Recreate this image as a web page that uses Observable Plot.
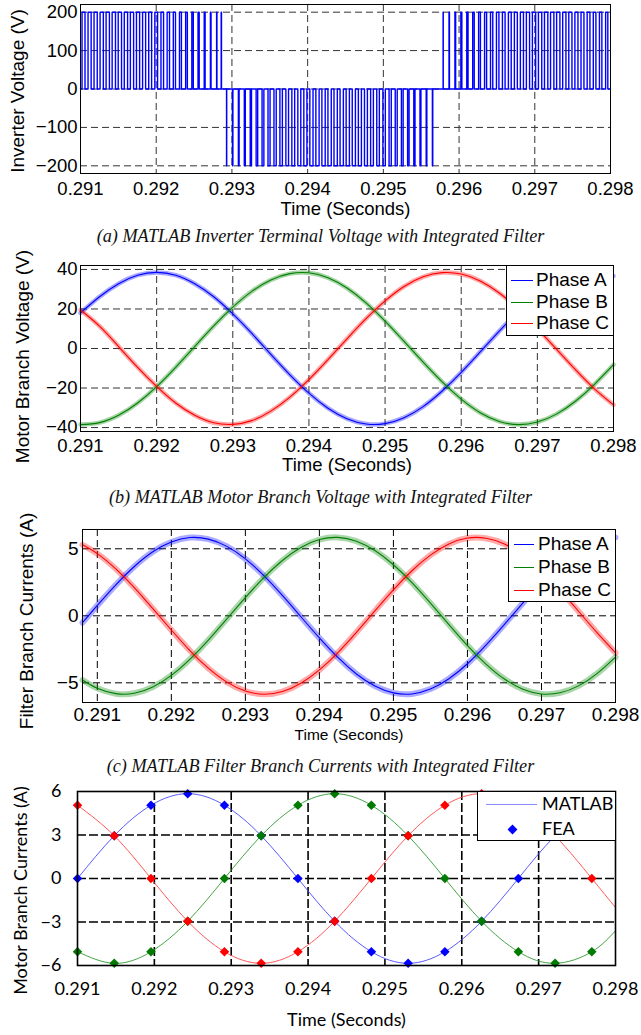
<!DOCTYPE html>
<html><head><meta charset="utf-8">
<script src="https://cdn.jsdelivr.net/npm/d3@7"></script>
<script src="https://cdn.jsdelivr.net/npm/@observablehq/plot@0.6"></script>
<style>
body{margin:0;background:#fff;}
#root{position:relative;width:641px;height:1035px;overflow:hidden;background:#fff;}
.cap{position:absolute;left:0;width:641px;text-align:center;font-family:"Liberation Serif","DejaVu Serif",serif;font-style:italic;font-size:18.2px;line-height:20px;color:#111;white-space:nowrap;}
.leg{position:absolute;background:#fff;box-sizing:border-box;}
.leg span{position:absolute;white-space:nowrap;}
</style>
</head><body><div id="root"></div><script>
// ---------- shared axis values ----------
const xTickValues = [0.291, 0.292, 0.293, 0.294, 0.295, 0.296, 0.297, 0.298];
const xGridInner = [0.292, 0.293, 0.294, 0.295, 0.296, 0.297];
const xGridC = [0.291, 0.292, 0.293, 0.294, 0.295, 0.296, 0.297];
const phaseNames = ["Phase A", "Phase B", "Phase C"];

// ---------- (a) inverter PWM voltage: pulse edges in ms after 0.291 s ----------
const pwmT0 = 0.291;
const pwmSpanMs = [0, 7];
const pwmLevels = [200, -200, 200];
const pos1OnMs  = [0.0203,0.0996,0.1789,0.2584,0.3381,0.4180,0.4981,0.5782,0.6586,0.7392,0.8199,0.9008,0.9818,1.0629,1.1442,1.2256,1.3071,1.3887,1.4704,1.5522,1.6340,1.7159,1.7978,1.8580];
const pos1OffMs = [0.0597,0.1404,0.2211,0.3016,0.3819,0.4620,0.5419,0.6218,0.7014,0.7808,0.8601,0.9392,1.0182,1.0971,1.1758,1.2544,1.3329,1.4113,1.4896,1.5678,1.6460,1.7241,1.8022,1.8620];
const negOnMs   = [1.9290,2.0071,2.0852,2.1634,2.2416,2.3198,2.3981,2.4766,2.5551,2.6337,2.7125,2.7914,2.8704,2.9496,3.0290,3.1085,3.1882,3.2680,3.3481,3.4282,3.5086,3.5891,3.6698,3.7507,3.8317,3.9128,3.9940,4.0755,4.1569,4.2385,4.3202,4.4020,4.4838,4.5657,4.6476];
const negOffMs  = [1.9310,2.0129,2.0948,2.1767,2.2585,2.3403,2.4219,2.5035,2.5850,2.6663,2.7476,2.8287,2.9096,2.9904,3.0711,3.1515,3.2319,3.3120,3.3920,3.4718,3.5514,3.6309,3.7102,3.7893,3.8683,3.9472,4.0260,4.1045,4.1831,4.2615,4.3398,4.4180,4.4962,4.5743,4.6524];
const pos2OnMs  = [4.7890,4.8671,4.9452,5.0234,5.1016,5.1798,5.2581,5.3366,5.4151,5.4937,5.5725,5.6514,5.7304,5.8096,5.8890,5.9685,6.0482,6.1280,6.2081,6.2882,6.3686,6.4491,6.5298,6.6107,6.6917,6.7728,6.8540,6.9355];
const pos2OffMs = [4.7910,4.8729,4.9548,5.0367,5.1185,5.2003,5.2819,5.3635,5.4450,5.5263,5.6076,5.6887,5.7696,5.8504,5.9311,6.0115,6.0919,6.1720,6.2520,6.3318,6.4114,6.4909,6.5702,6.6493,6.7283,6.8072,6.8860,6.9645];
const yTicksA = [-200, -100, 0, 100, 200];

// ---------- (b) motor branch voltage ----------
const tB = [0.291,0.29125,0.2915,0.29175,0.292,0.29225,0.2925,0.29275,0.293,0.29325,0.2935,0.29375,0.294,0.29425,0.2945,0.29475,0.295,0.29525,0.2955,0.29575,0.296,0.29625,0.2965,0.29675,0.297,0.29725,0.2975,0.29775,0.298];
const vA_b = [18.0,26.2,32.8,37.1,38.5,37.1,32.8,26.2,17.5,7.6,-3.0,-13.3,-22.6,-30.2,-35.5,-38.2,-38.0,-35.0,-29.4,-21.5,-12.1,-1.7,8.8,18.6,27.1,33.5,37.4,38.5,36.7];
const vB_b = [-38.5,-37.5,-33.8,-27.6,-19.3,-9.5,1.0,11.4,20.9,28.9,34.7,37.9,38.3,35.8,30.6,23.1,13.9,3.6,-6.9,-16.9,-25.6,-32.5,-36.9,-38.5,-37.2,-33.2,-26.7,-18.1,-8.2];
const vC_b = [19.5,11.3,1.0,-9.5,-19.2,-27.6,-33.8,-37.6,-38.4,-36.5,-31.7,-24.6,-15.7,-5.6,4.9,15.1,24.1,31.4,36.3,38.4,37.7,34.2,28.1,19.9,10.1,-0.3,-10.7,-20.4,-28.5];
const yTicksB = [-40, -20, 0, 20, 40];

// ---------- (c) filter branch currents ----------
const tC = [0.2908,0.291,0.29125,0.2915,0.29175,0.292,0.29225,0.2925,0.29275,0.293,0.29325,0.2935,0.29375,0.294,0.29425,0.2945,0.29475,0.295,0.29525,0.2955,0.29575,0.296,0.29625,0.2965,0.29675,0.297,0.29725,0.2975,0.29775,0.298];
const vA_c = [-0.51,0.77,2.31,3.68,4.78,5.51,5.84,5.72,5.18,4.25,3.00,1.52,-0.07,-1.65,-3.11,-4.34,-5.24,-5.75,-5.83,-5.47,-4.70,-3.58,-2.19,-0.64,0.96,2.49,3.83,4.89,5.58,5.85];
const vB_c = [-4.79,-5.41,-5.81,-5.78,-5.31,-4.45,-3.25,-1.81,-0.23,1.36,2.85,4.13,5.10,5.69,5.85,5.57,4.87,3.81,2.47,0.94,-0.66,-2.22,-3.60,-4.72,-5.48,-5.83,-5.74,-5.23,-4.32,-3.09];
const vC_c = [5.30,4.64,3.50,2.10,0.53,-1.06,-2.59,-3.91,-4.95,-5.61,-5.85,-5.65,-5.03,-4.04,-2.74,-1.23,0.37,1.94,3.36,4.53,5.36,5.80,5.79,5.36,4.52,3.34,1.91,0.34,-1.26,-2.76];
const yTicksC = [-5, 0, 5];

// ---------- (d) motor branch currents: MATLAB vs FEA ----------
const tFEA = [0.291,0.291478,0.291956,0.292434,0.292912,0.29339,0.293868,0.294346,0.294824,0.295302,0.29578,0.296258,0.296736,0.297214,0.297692];
const feaA = [0,2.95,5.05,5.85,5.05,2.95,0,-2.95,-5.05,-5.85,-5.05,-2.95,0,2.95,5.05];
const feaB = [-5.05,-5.85,-5.05,-2.95,0,2.95,5.05,5.85,5.05,2.95,0,-2.95,-5.05,-5.85,-5.05];
const feaC = [5.05,2.95,0,-2.95,-5.05,-5.85,-5.05,-2.95,0,2.95,5.05,5.85,5.05,2.95,0];
const tMATLAB = [0.291,0.291478,0.291956,0.292434,0.292912,0.29339,0.293868,0.294346,0.294824,0.295302,0.29578,0.296258,0.296736,0.297214,0.297692,0.298];
const matA = [0,2.95,5.05,5.85,5.05,2.95,0,-2.95,-5.05,-5.85,-5.05,-2.95,0,2.95,5.05,5.75];
const matB = [-5.05,-5.85,-5.05,-2.95,0,2.95,5.05,5.85,5.05,2.95,0,-2.95,-5.05,-5.85,-5.05,-3.6];
const matC = [5.05,2.95,0,-2.95,-5.05,-5.85,-5.05,-2.95,0,2.95,5.05,5.85,5.05,2.95,0,-2.0];
const yTicksD = [-6, -3, 0, 3, 6];

// ---------- helpers ----------
const root = document.getElementById("root");
const sans = "'Liberation Sans', Arial, Helvetica, sans-serif";
const lato = "Lato, 'Open Sans', sans-serif";
const fmt = d => d.toFixed(3);
const series = (ts, vs) => ts.map((t, i) => ({t, v: vs[i]}));
function add(el, top, left = 0) {
  el.style.position = "absolute"; el.style.top = top + "px"; el.style.left = left + "px";
  root.appendChild(el); return el;
}
function styleFor(family, size) {
  return {fontFamily: family, fontSize: size + "px", color: "#000", background: "transparent", overflow: "visible"};
}
const yTitle = (txt, dx, dy, size) => Plot.text([txt], {frameAnchor: "left", dx, dy, rotate: -90, textAnchor: "middle", lineAnchor: "middle", fontSize: size});
const xTitle = (txt, dy, size) => Plot.text([txt], {frameAnchor: "bottom", dy, textAnchor: "middle", lineAnchor: "middle", fontSize: size});

// build PWM step trace
const pwm = [{t: pwmT0 + pwmSpanMs[0] / 1000, v: 0}];
[[pos1OnMs, pos1OffMs], [negOnMs, negOffMs], [pos2OnMs, pos2OffMs]].forEach(([on, off], r) => {
  on.forEach((s, i) => {
    const a = pwmT0 + s / 1000, b = pwmT0 + off[i] / 1000, L = pwmLevels[r];
    pwm.push({t: a, v: 0}, {t: a, v: L}, {t: b, v: L}, {t: b, v: 0});
  });
});
pwm.push({t: pwmT0 + pwmSpanMs[1] / 1000, v: 0});

const gridStyle = {stroke: "#333", strokeOpacity: 1, strokeDasharray: "7,4", strokeWidth: 1};

// ---------- panel (a) ----------
add(Plot.plot({
  width: 641, height: 220, marginTop: 4, marginBottom: 47, marginLeft: 80, marginRight: 31,
  style: styleFor(sans, 18.5),
  x: {domain: [0.291, 0.298], ticks: xTickValues, tickFormat: fmt, tickSize: 0, tickPadding: 8, label: null},
  y: {domain: [-220, 220], ticks: yTicksA, tickSize: 0, tickPadding: 3, label: null},
  marks: [
    Plot.gridX(xGridInner, gridStyle),
    Plot.gridY(yTicksA, gridStyle),
    Plot.line(pwm, {x: "t", y: "v", stroke: "#0000ff", strokeWidth: 1.4}),
    Plot.frame({stroke: "#000"}),
    xTitle("Time (Seconds)", 36, 18.5),
    yTitle("Inverter Voltage (V)", -63, 2, 19)
  ]
}), 0);
const capA = document.createElement("div"); capA.className = "cap";
capA.textContent = "(a) MATLAB Inverter Terminal Voltage with Integrated Filter";
add(capA, 226);

// ---------- panel (b) ----------
const colsB = ["#0000ff", "#008000", "#ff0000"];
const dataB = [series(tB, vA_b), series(tB, vB_b), series(tB, vC_b)];
add(Plot.plot({
  width: 641, height: 225, marginTop: 15, marginBottom: 44, marginLeft: 80, marginRight: 28,
  style: styleFor(sans, 18.5),
  x: {domain: [0.291, 0.298], ticks: xTickValues, tickFormat: fmt, tickSize: 0, tickPadding: 7, label: null},
  y: {domain: [-42, 42], ticks: yTicksB, tickSize: 0, tickPadding: 3, label: null},
  marks: [
    Plot.gridX(xGridInner, gridStyle),
    Plot.gridY(yTicksB, gridStyle),
    ...dataB.map((d, j) => Plot.line(d, {x: "t", y: "v", stroke: colsB[j], curve: "natural", strokeWidth: 4.5, strokeOpacity: 0.35})),
    ...dataB.map((d, j) => Plot.line(d, {x: "t", y: "v", stroke: colsB[j], curve: "natural", strokeWidth: 1.1})),
    Plot.frame({stroke: "#000"}),
    xTitle("Time (Seconds)", 34, 18.5),
    yTitle("Motor Branch Voltage (V)", -58, 8, 19)
  ]
}), 250);
const capB = document.createElement("div"); capB.className = "cap";
capB.textContent = "(b) MATLAB Motor Branch Voltage with Integrated Filter";
add(capB, 487);

// ---------- panel (c) ----------
const dataC = [series(tC, vA_c), series(tC, vB_c), series(tC, vC_c)];
add(Plot.plot({
  width: 641, height: 230, marginTop: 14, marginBottom: 43, marginLeft: 82, marginRight: 26,
  style: styleFor(sans, 19),
  x: {domain: [0.2908, 0.298], ticks: xTickValues, tickFormat: fmt, tickSize: 0, tickPadding: 5, label: null},
  y: {domain: [-6.47, 6.44], ticks: yTicksC, tickSize: 0, tickPadding: 4, label: null},
  marks: [
    Plot.gridX(xGridC, {...gridStyle, stroke: "#000"}),
    Plot.gridY(yTicksC, {...gridStyle, stroke: "#000"}),
    ...dataC.map((d, j) => Plot.line(d, {x: "t", y: "v", stroke: colsB[j], curve: "natural", strokeWidth: 6, strokeOpacity: 0.33})),
    ...dataC.map((d, j) => Plot.line(d, {x: "t", y: "v", stroke: colsB[j], curve: "natural", strokeWidth: 1.1})),
    Plot.frame({stroke: "#000"}),
    xTitle("Time (Seconds)", 33, 15.5),
    yTitle("Filter Branch Currents (A)", -56, 5, 19)
  ]
}), 515);
const capC = document.createElement("div"); capC.className = "cap";
capC.textContent = "(c) MATLAB Filter Branch Currents with Integrated Filter";
add(capC, 756);

// ---------- panel (d) ----------
const lineColsD = ["#4747ff", "#2f9a2f", "#ff4747"];
const dotColsD = ["#0000ff", "#007a00", "#ff0000"];
const matData = [series(tMATLAB, matA), series(tMATLAB, matB), series(tMATLAB, matC)];
const feaData = [series(tFEA, feaA), series(tFEA, feaB), series(tFEA, feaC)];
const gridD = {stroke: "#000", strokeOpacity: 1, strokeDasharray: "9,3", strokeWidth: 1.6};
add(Plot.plot({
  width: 641, height: 255, marginTop: 11, marginBottom: 70, marginLeft: 77, marginRight: 26,
  style: styleFor(lato, 18),
  x: {domain: [0.291, 0.298], ticks: xTickValues, tickFormat: fmt, tickSize: 0, tickPadding: 17, label: null},
  y: {domain: [-6, 6], ticks: yTicksD, tickSize: 0, tickPadding: 16, label: null},
  marks: [
    Plot.gridX(xGridInner, gridD),
    Plot.gridY([-3, 0, 3], gridD),
    ...matData.map((d, j) => Plot.line(d, {x: "t", y: "v", stroke: lineColsD[j], curve: "natural", strokeWidth: 0.9})),
    ...feaData.map((d, j) => Plot.dot(d, {x: "t", y: "v", symbol: "diamond2", r: 4.3, fill: dotColsD[j], stroke: "none"})),
    Plot.frame({stroke: "#000", strokeWidth: 1.6}),
    xTitle("Time (Seconds)", 55, 18),
    yTitle("Motor Branch Currents (A)", -56, 12, 18)
  ]
}), 780);

// ---------- legends ----------
function legendBox(left, top, w, h, border, font, size, items) {
  const box = document.createElement("div"); box.className = "leg";
  box.style.width = w + "px"; box.style.height = h + "px";
  box.style.border = border; box.style.fontFamily = font; box.style.fontSize = size + "px";
  items.forEach(it => {
    if (it.kind === "line") {
      const ln = document.createElement("div");
      ln.style.cssText = `position:absolute;left:${it.x0}px;width:${it.x1 - it.x0}px;top:${it.y - 0.5}px;height:0;border-top:${it.w || 1}px solid ${it.color};`;
      box.appendChild(ln);
    } else {
      const dm = document.createElement("div");
      dm.style.cssText = `position:absolute;left:${it.x0 - 3.5}px;top:${it.y - 3.5}px;width:7px;height:7px;background:${it.color};transform:rotate(45deg);`;
      box.appendChild(dm);
    }
    const sp = document.createElement("span");
    sp.textContent = it.label;
    sp.style.left = it.tx + "px"; sp.style.top = (it.y - size * 0.6) + "px"; sp.style.lineHeight = (size * 1.2) + "px";
    box.appendChild(sp);
  });
  add(box, top, left);
}
legendBox(506, 265, 108, 71, "1px solid #000", sans, 19, phaseNames.map((p, j) => ({kind: "line", label: p, color: colsB[j], x0: 4, x1: 26, tx: 29, y: [14, 36, 57][j]})));
legendBox(508, 529, 108, 73, "1px solid #000", sans, 19, phaseNames.map((p, j) => ({kind: "line", label: p, color: colsB[j], x0: 5, x1: 25, tx: 29, y: [14, 37, 60][j]})));
legendBox(477, 791, 139, 50, "1.5px solid #000", lato, 18, [
  {kind: "line", label: "MATLAB", color: "#8c8cff", w: 1.5, x0: 8, x1: 59, tx: 64, y: 12},
  {kind: "dot", label: "FEA", color: "#0000ff", x0: 34, tx: 64, y: 37}
]);
</script></body></html>
